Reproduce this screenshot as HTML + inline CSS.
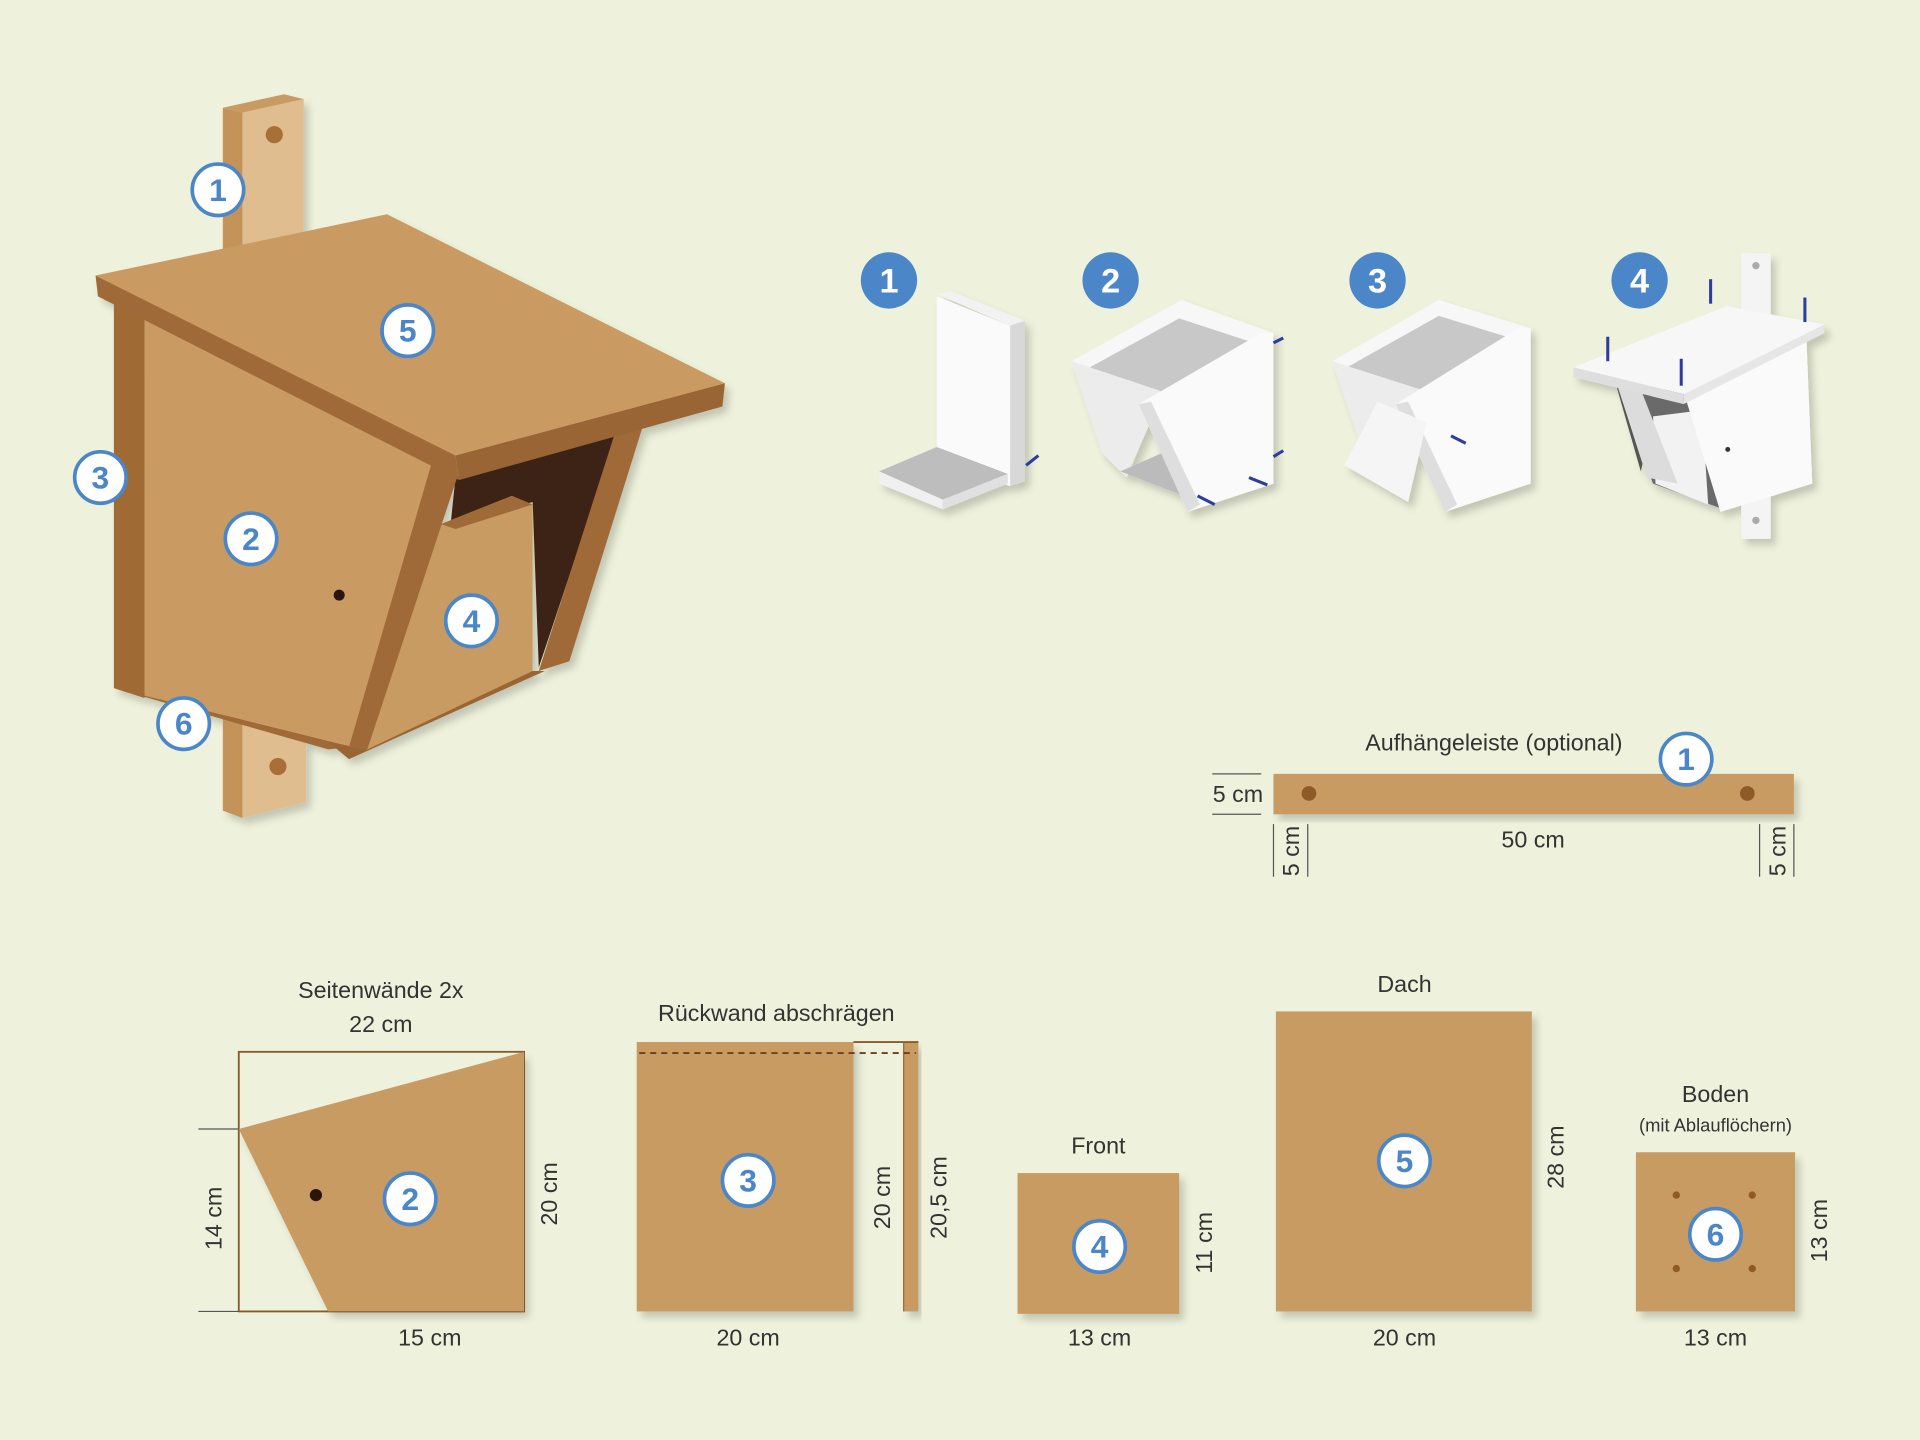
<!DOCTYPE html>
<html><head><meta charset="utf-8"><style>
html,body{margin:0;padding:0;background:#eef2dc;}
svg{display:block}
text{font-family:"Liberation Sans",sans-serif;fill:#333;}
.b circle{fill:#fff;stroke:#4a86c8;stroke-width:3}
.b text{fill:#4a86c8;font-weight:bold;font-size:26px;text-anchor:middle}
.s circle{fill:#4a86c8}
.s text{fill:#fff;font-weight:bold;font-size:28px;text-anchor:middle}
.l{font-size:19px;text-anchor:middle}
</style></head><body>
<svg width="1920" height="1440" viewBox="0 0 1568 1176" xmlns="http://www.w3.org/2000/svg">
<defs>
<filter id="sh" x="-10%" y="-10%" width="130%" height="130%"><feDropShadow dx="4" dy="5" stdDeviation="3" flood-color="#000" flood-opacity="0.18"/></filter>
<g id="badge"></g>
</defs>
<rect width="1568" height="1176" fill="#eef2dc"/>

<!-- Birdhouse -->
<g filter="url(#sh)">
<polygon points="182,88 232,77 248,81 198,92" fill="#c99a62"/>
<polygon points="182,88 198,92 198,210 182,210" fill="#c4935a"/>
<polygon points="198,92 248,81 248,210 198,210" fill="#dfbd8e"/>
<polygon points="182,580 198,585 198,668 182,662" fill="#c4935a"/>
<polygon points="198,585 250,580 250,655 198,668" fill="#dfbd8e"/>
<circle cx="224" cy="110" r="7" fill="#a86f38"/>
<circle cx="227" cy="626" r="7" fill="#a86f38"/>
<polygon points="93,245 118,258 118,570 93,562" fill="#a06a36"/>
<polygon points="118,258 372,385 288,610 118,568" fill="#c99b62"/>
<polygon points="93,562 118,568 288,610 268,612" fill="#a06b37"/>
<polygon points="372,390 505,350 440,545 435,410 368,428" fill="#3e2313"/>
<polygon points="505,345 525,348 465,540 440,548" fill="#a06b37"/>
<polygon points="360,428 418,405 435,412 435,550 300,612 322,540" fill="#c89b62"/>
<polygon points="360,428 418,405 435,412 372,432" fill="#a06b37"/>
<polygon points="268,606 300,612 435,548 445,548 285,620" fill="#9a6534"/>
<polygon points="352,380 374,388 300,612 285,610" fill="#a06b37"/>
<polygon points="78,225 316,175 592,313 372,372" fill="#c99b62"/>
<polygon points="78,225 372,372 375,392 80,242" fill="#a06b37"/>
<polygon points="372,372 592,313 590,332 375,392" fill="#9a6534"/>
<circle cx="277" cy="486" r="4.5" fill="#2a1608"/>
</g>
<g class="b"><circle cx="178" cy="155" r="21"/><text x="178" y="164">1</text></g>
<g class="b"><circle cx="333" cy="270" r="21"/><text x="333" y="279">5</text></g>
<g class="b"><circle cx="82" cy="390" r="21"/><text x="82" y="399">3</text></g>
<g class="b"><circle cx="205" cy="440" r="21"/><text x="205" y="449">2</text></g>
<g class="b"><circle cx="385" cy="507" r="21"/><text x="385" y="516">4</text></g>
<g class="b"><circle cx="150" cy="591" r="21"/><text x="150" y="600">6</text></g>

<!-- Steps -->
<g class="s"><circle cx="726" cy="229" r="23"/><text x="726" y="239">1</text></g>
<g class="s"><circle cx="907" cy="229" r="23"/><text x="907" y="239">2</text></g>
<g class="s"><circle cx="1125" cy="229" r="23"/><text x="1125" y="239">3</text></g>
<g class="s"><circle cx="1339" cy="229" r="23"/><text x="1339" y="239">4</text></g>

<g filter="url(#sh)">
<!-- step1 -->
<polygon points="765,240 777,238 837,262 825,266" fill="#f2f2f2"/>
<polygon points="765,242 825,266 825,397 765,375" fill="#fafafa"/>
<polygon points="825,266 837,262 837,393 825,397" fill="#d8d8d8"/>
<polygon points="718,385 765,365 823,387 770,408" fill="#bdbdbd"/>
<polygon points="718,385 770,408 770,416 718,395" fill="#f0f0f0"/>
<polygon points="770,408 823,387 823,395 770,416" fill="#e0e0e0"/>
<!-- step2 -->
<polygon points="875,295 965,245 1040,272 950,320" fill="#f7f7f7"/>
<polygon points="890,300 963,260 1030,282 955,322" fill="#c8c8c8"/>
<polygon points="875,295 950,320 920,390 900,370" fill="#ececec"/>
<polygon points="915,385 960,365 1030,395 980,410" fill="#bbbbbb"/>
<polygon points="930,330 1030,272 1040,272 1040,395 970,418" fill="#fafafa"/>
<polygon points="930,330 940,328 980,412 970,418" fill="#dedede"/>
<!-- step3 -->
<polygon points="1088,295 1175,245 1250,268 1160,318" fill="#f7f7f7"/>
<polygon points="1100,300 1175,258 1240,278 1165,320" fill="#c8c8c8"/>
<polygon points="1088,295 1160,318 1150,380 1110,360" fill="#ececec"/>
<polygon points="1140,330 1240,268 1250,268 1250,395 1180,418" fill="#fafafa"/>
<polygon points="1140,330 1150,328 1190,412 1180,418" fill="#dedede"/>
<polygon points="1098,380 1125,328 1165,345 1150,410" fill="#f5f5f5"/>
<!-- step4 -->
<rect x="1422" y="207" width="24" height="50" fill="#f4f4f4"/>
<rect x="1422" y="395" width="24" height="45" fill="#f4f4f4"/>
<circle cx="1434" cy="217" r="3" fill="#aaa"/><circle cx="1434" cy="425" r="3" fill="#aaa"/>
<polygon points="1320,315 1380,320 1350,340 1340,385" fill="#555"/>
<polygon points="1320,315 1400,328 1405,415 1350,395" fill="#6a6a6a"/>
<polygon points="1350,340 1390,335 1395,412 1352,395" fill="#f2f2f2"/>
<polygon points="1320,312 1340,318 1370,395 1345,390" fill="#dcdcdc"/>
<polygon points="1375,320 1475,270 1480,395 1405,418" fill="#fafafa"/>
<polygon points="1285,300 1410,250 1490,265 1375,322" fill="#f7f7f7"/>
<polygon points="1285,300 1375,322 1375,330 1285,308" fill="#dedede"/>
<polygon points="1375,322 1490,265 1490,272 1375,330" fill="#e6e6e6"/>
</g>
<g stroke="#2c3e9c" stroke-width="2.5">
<line x1="838" y1="380" x2="848" y2="372"/><line x1="1040" y1="280" x2="1048" y2="276"/>
<line x1="1040" y1="373" x2="1048" y2="368"/><line x1="978" y1="405" x2="992" y2="412"/>
<line x1="1020" y1="390" x2="1035" y2="396"/><line x1="1185" y1="356" x2="1197" y2="362"/>
<line x1="1313" y1="275" x2="1313" y2="295"/><line x1="1373" y1="293" x2="1373" y2="315"/>
<line x1="1397" y1="228" x2="1397" y2="248"/><line x1="1474" y1="243" x2="1474" y2="263"/>
</g>
<circle cx="1411" cy="367" r="2" fill="#333"/>

<!-- Aufhängeleiste -->
<text class="l" x="1220" y="613">Aufhängeleiste (optional)</text>
<rect x="1040" y="632" width="425" height="33" fill="#c89b62" filter="url(#sh)"/>
<circle cx="1069" cy="648" r="6" fill="#8e5a28"/><circle cx="1427" cy="648" r="6" fill="#8e5a28"/>
<g class="b"><circle cx="1377" cy="620" r="21"/><text x="1377" y="629">1</text></g>
<g stroke="#555" stroke-width="1">
<line x1="990" y1="632" x2="1030" y2="632"/><line x1="990" y1="665" x2="1030" y2="665"/>
<line x1="1040" y1="673" x2="1040" y2="716"/><line x1="1068" y1="673" x2="1068" y2="716"/>
<line x1="1437" y1="673" x2="1437" y2="716"/><line x1="1465" y1="673" x2="1465" y2="716"/>
</g>
<text class="l" x="1011" y="655">5 cm</text>
<text class="l" x="1252" y="692">50 cm</text>
<text class="l" transform="translate(1061,695) rotate(-90)">5 cm</text>
<text class="l" transform="translate(1458,695) rotate(-90)">5 cm</text>

<!-- Seitenwände -->
<text class="l" x="311" y="815">Seitenwände 2x</text>
<text class="l" x="311" y="843">22 cm</text>
<rect x="195" y="859" width="233" height="212" fill="none" stroke="#8a5a2a" stroke-width="1.5"/>
<polygon points="195,922 428,859 428,1071 268,1071" fill="#c89b62" filter="url(#sh)"/>
<circle cx="258" cy="976" r="5" fill="#2a1608"/>
<g class="b"><circle cx="335" cy="979" r="21"/><text x="335" y="988">2</text></g>
<g stroke="#555" stroke-width="1"><line x1="162" y1="922" x2="195" y2="922"/><line x1="162" y1="1071" x2="195" y2="1071"/></g>
<text class="l" transform="translate(181,995) rotate(-90)">14 cm</text>
<text class="l" transform="translate(455,975) rotate(-90)">20 cm</text>
<text class="l" x="351" y="1099">15 cm</text>

<!-- Rückwand -->
<text class="l" x="634" y="834">Rückwand abschrägen</text>
<rect x="520" y="851" width="177" height="220" fill="#c89b62" filter="url(#sh)"/>
<rect x="738" y="851" width="12" height="220" fill="#c89b62" filter="url(#sh)"/>
<line x1="697" y1="851" x2="750" y2="851" stroke="#8a5a2a" stroke-width="1.5"/>
<line x1="738" y1="851" x2="738" y2="1071" stroke="#9a6534" stroke-width="1"/>
<line x1="522" y1="860" x2="748" y2="860" stroke="#6a4020" stroke-width="1.5" stroke-dasharray="5,4"/>
<g class="b"><circle cx="611" cy="964" r="21"/><text x="611" y="973">3</text></g>
<text class="l" transform="translate(727,978) rotate(-90)">20 cm</text>
<text class="l" transform="translate(773,978) rotate(-90)">20,5 cm</text>
<text class="l" x="611" y="1099">20 cm</text>

<!-- Front -->
<text class="l" x="897" y="942">Front</text>
<rect x="831" y="958" width="132" height="115" fill="#c89b62" filter="url(#sh)"/>
<g class="b"><circle cx="898" cy="1018" r="21"/><text x="898" y="1027">4</text></g>
<text class="l" transform="translate(990,1015) rotate(-90)">11 cm</text>
<text class="l" x="898" y="1099">13 cm</text>

<!-- Dach -->
<text class="l" x="1147" y="810">Dach</text>
<rect x="1042" y="826" width="209" height="245" fill="#c89b62" filter="url(#sh)"/>
<g class="b"><circle cx="1147" cy="948" r="21"/><text x="1147" y="957">5</text></g>
<text class="l" transform="translate(1277,945) rotate(-90)">28 cm</text>
<text class="l" x="1147" y="1099">20 cm</text>

<!-- Boden -->
<text class="l" x="1401" y="900">Boden</text>
<text class="l" x="1401" y="924" style="font-size:15px">(mit Ablauflöchern)</text>
<rect x="1336" y="941" width="130" height="130" fill="#c89b62" filter="url(#sh)"/>
<g fill="#8e5a28"><circle cx="1369" cy="976" r="3"/><circle cx="1431" cy="976" r="3"/><circle cx="1369" cy="1036" r="3"/><circle cx="1431" cy="1036" r="3"/></g>
<g class="b"><circle cx="1401" cy="1008" r="21"/><text x="1401" y="1017">6</text></g>
<text class="l" transform="translate(1492,1005) rotate(-90)">13 cm</text>
<text class="l" x="1401" y="1099">13 cm</text>
</svg>
</body></html>
